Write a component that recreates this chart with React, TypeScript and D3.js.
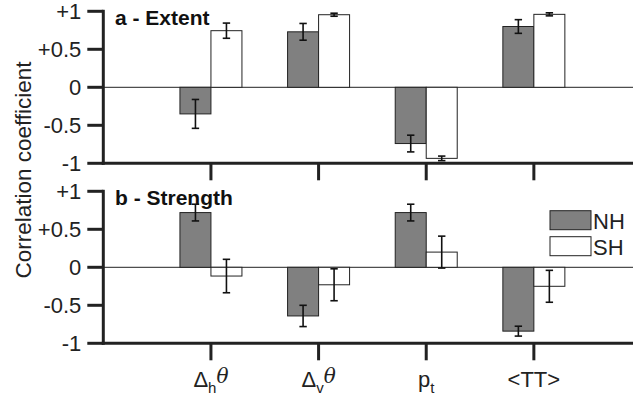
import React from "react";
import * as d3 from "d3";

const categories = ["dh", "dv", "pt", "tt"];
const panels = ["a - Extent", "b - Strength"];
const seriesNames = ["NH", "SH"];
const extentNH = [-0.35, 0.73, -0.74, 0.8];
const extentNHErr = [0.19, 0.11, 0.11, 0.09];
const extentSH = [0.745, 0.955, -0.935, 0.96];
const extentSHErr = [0.1, 0.02, 0.03, 0.02];
const strengthNH = [0.72, -0.64, 0.72, -0.84];
const strengthNHErr = [0.11, 0.14, 0.11, 0.065];
const strengthSH = [-0.115, -0.23, 0.2, -0.25];
const strengthSHErr = [0.22, 0.21, 0.21, 0.21];
const yTicks = [1, 0.5, 0, -0.5, -1];
const yTickLabels = ["+1", "+0.5", "0", "-0.5", "-1"];

const W = 633;
const H = 401;
const FONT = "Liberation Sans, Arial, Helvetica, sans-serif";
const axisColor = "#222";

export default function App() {
  const x = d3.scaleLinear().domain([0, 4.921]).range([103.3, 633]);
  const panelData = [
    { nh: extentNH, nhE: extentNHErr, sh: extentSH, shE: extentSHErr, top: 11.3 },
    { nh: strengthNH, nhE: strengthNHErr, sh: strengthSH, shE: strengthSHErr, top: 191.3 },
  ];
  const bw = 31;
  const labels = [
    { main: "\u0394", sub: "h", sup: "\u03b8" },
    { main: "\u0394", sub: "v", sup: "\u03b8" },
    { main: "p", sub: "t", sup: "" },
    { main: "<TT>", sub: "", sup: "" },
  ];
  return (
    <svg width={W} height={H} style={{ position: "absolute", left: 0, top: 0, background: "#fff" }}>
      <rect x={0} y={0} width={W} height={H} fill="#fff" />
      {panelData.map((p, pi) => {
        const y = d3.scaleLinear().domain([-1, 1]).range([p.top + 152, p.top]);
        const y0 = y(0);
        const series = [
          { v: p.nh, e: p.nhE, fill: "#808080", off: -bw },
          { v: p.sh, e: p.shE, fill: "#ffffff", off: 0 },
        ];
        return (
          <g key={pi}>
            <line x1={x(0)} x2={W} y1={y0} y2={y0} stroke={axisColor} strokeWidth={1} />
            {series.map((s, si) =>
              categories.map((c, ci) => {
                const cx = x(ci + 1);
                const v = s.v[ci];
                const yt = Math.min(y(v), y0);
                const hgt = Math.abs(y(v) - y0);
                return (
                  <rect
                    key={`b${si}-${ci}`}
                    x={cx + s.off}
                    y={yt}
                    width={bw}
                    height={hgt}
                    fill={s.fill}
                    stroke={axisColor}
                    strokeWidth={1}
                  />
                );
              })
            )}
            {series.map((s, si) =>
              categories.map((c, ci) => {
                const ex = x(ci + 1) + s.off + bw / 2;
                const v = s.v[ci];
                const e = s.e[ci];
                const ya = y(v + e);
                const yb = y(v - e);
                return (
                  <g key={`e${si}-${ci}`} stroke="#111" strokeWidth={1.6}>
                    <line x1={ex} x2={ex} y1={ya} y2={yb} />
                    <line x1={ex - 3.7} x2={ex + 3.7} y1={ya} y2={ya} />
                    <line x1={ex - 3.7} x2={ex + 3.7} y1={yb} y2={yb} />
                  </g>
                );
              })
            )}
            {/* y axis */}
            <line x1={x(0)} x2={x(0)} y1={y(1) - 1.5} y2={y(-1) + 1.5} stroke={axisColor} strokeWidth={3} />
            {yTicks.map((t, ti) => (
              <g key={`t${ti}`}>
                <line x1={x(0) - 16} x2={x(0)} y1={y(t)} y2={y(t)} stroke={axisColor} strokeWidth={3} />
                <text
                  x={x(0) - 22}
                  y={y(t)}
                  dy="0.36em"
                  textAnchor="end"
                  fontFamily={FONT}
                  fontSize={22}
                  fill="#222"
                >
                  {yTickLabels[ti]}
                </text>
              </g>
            ))}
            {/* x axis */}
            <line x1={x(0) - 1.5} x2={W} y1={y(-1)} y2={y(-1)} stroke={axisColor} strokeWidth={3} />
            {categories.map((c, ci) => (
              <line
                key={`xt${ci}`}
                x1={x(ci + 1)}
                x2={x(ci + 1)}
                y1={y(-1)}
                y2={y(-1) + 17}
                stroke={axisColor}
                strokeWidth={3}
              />
            ))}
            <text x={115} y={p.top + 14} fontFamily={FONT} fontSize={21} fontWeight="bold" fill="#111">
              {panels[pi]}
            </text>
          </g>
        );
      })}
      {/* category labels */}
      {labels.map((l, li) => (
        <text
          key={`cl${li}`}
          x={x(li + 1)}
          y={387}
          textAnchor="middle"
          fontFamily={FONT}
          fontSize={22}
          fill="#222"
        >
          <tspan>{l.main}</tspan>
          {l.sub && (
            <tspan dy={6} fontSize={15}>
              {l.sub}
            </tspan>
          )}
          {l.sup && (
            <tspan dy={-10} fontStyle="italic" fontFamily="DejaVu Serif, serif" fontSize={20}>
              {l.sup}
            </tspan>
          )}
        </text>
      ))}
      {/* legend */}
      {seriesNames.map((n, i) => (
        <g key={`lg${i}`}>
          <rect
            x={550}
            y={210.7 + i * 26}
            width={41}
            height={19}
            fill={i === 0 ? "#808080" : "#fff"}
            stroke={axisColor}
            strokeWidth={1}
          />
          <text x={593} y={228.5 + i * 26} fontFamily={FONT} fontSize={22} fill="#222">
            {n}
          </text>
        </g>
      ))}
      {/* y label */}
      <text
        transform="translate(31,170) rotate(-90)"
        textAnchor="middle"
        fontFamily={FONT}
        fontSize={22.5}
        fill="#222"
      >
        Correlation coefficient
      </text>
    </svg>
  );
}
